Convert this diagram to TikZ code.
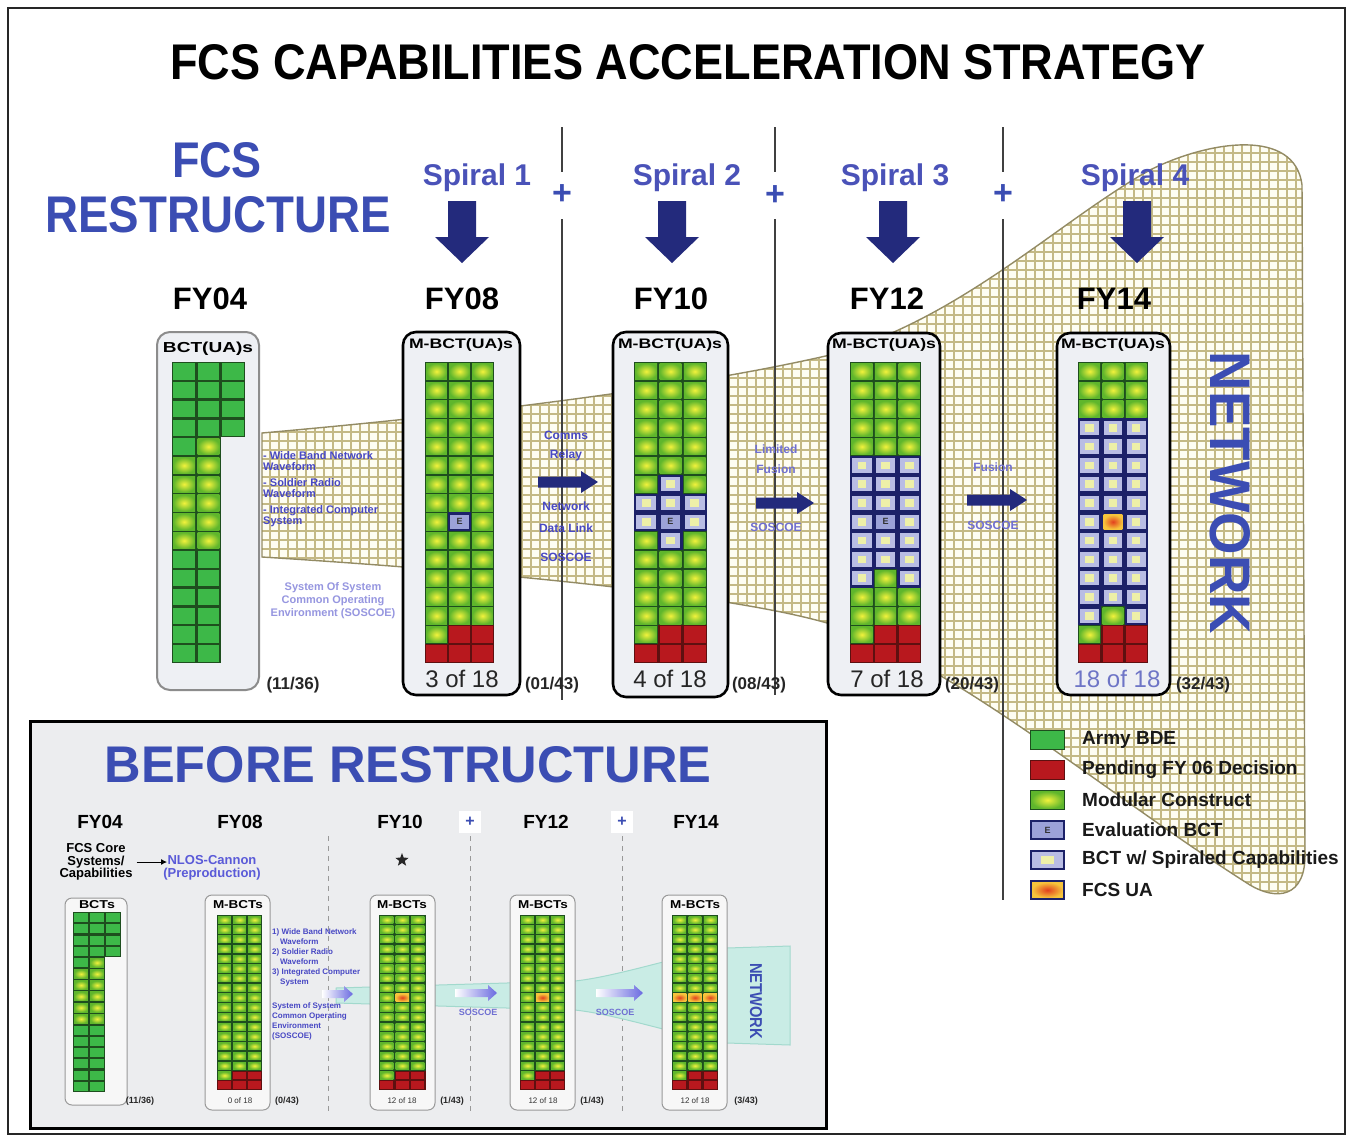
\documentclass[tikz,border=0pt]{standalone}
\usepackage{fontspec}
\setmainfont{Liberation Sans}
\usetikzlibrary{shapes.geometric,arrows.meta}
\definecolor{rblue}{HTML}{3B4DB3}
\definecolor{spblue}{HTML}{4A52B8}
\definecolor{navy}{HTML}{232A7C}
\definecolor{tblue}{HTML}{4848C4}
\definecolor{tblue2}{HTML}{7070D2}
\definecolor{lpurp}{HTML}{9696E0}
\definecolor{gridc}{HTML}{C4B985}
\definecolor{gridbg}{HTML}{FEFDF2}
\definecolor{gline}{HTML}{1E4E1E}
\definecolor{gfill}{HTML}{3DB848}
\definecolor{mfill}{HTML}{5FB62C}
\definecolor{ylw}{HTML}{F2F23C}
\definecolor{rline}{HTML}{5E1010}
\definecolor{rfill}{HTML}{B8181E}
\definecolor{bline}{HTML}{1C2168}
\definecolor{lav}{HTML}{B9BDE4}
\definecolor{lav2}{HTML}{9CA2D8}
\definecolor{bylw}{HTML}{EEF0A8}
\definecolor{boxfill}{HTML}{EEF0F4}
\definecolor{insetbg}{HTML}{ECEDEF}
\definecolor{tealf}{HTML}{C9ECE5}
\definecolor{teale}{HTML}{A2D9CD}
\definecolor{ofill}{HTML}{F6C43C}
\definecolor{ored}{HTML}{E2401E}
\definecolor{nlos}{HTML}{5A5AD8}
\definecolor{arrb}{HTML}{6A6AE0}
\newcount\ecnt
\newcommand\cellG[4]{\fill[gline] (#1,#2) rectangle ++(#3,#4); \fill[gfill] (#1+1.2,#2+1.2) rectangle (#1+#3-1.2,#2+#4-1.2);}
\newcommand\cellM[4]{\fill[gline] (#1,#2) rectangle ++(#3,#4); \shade[inner color=ylw, outer color=mfill] (#1+1.2,#2+1.2) rectangle (#1+#3-1.2,#2+#4-1.2);}
\newcommand\cellR[4]{\fill[rline] (#1,#2) rectangle ++(#3,#4); \fill[rfill] (#1+1.2,#2+1.2) rectangle (#1+#3-1.2,#2+#4-1.2);}
\newcommand\cellB[4]{\fill[bline] (#1,#2) rectangle ++(#3,#4); \fill[lav] (#1+2.2,#2+2.2) rectangle (#1+#3-2.2,#2+#4-2.2); \fill[bylw] (#1+0.32*#3,#2+0.3*#4) rectangle (#1+0.68*#3,#2+0.7*#4);}
\newcommand\cellE[4]{\fill[bline] (#1,#2) rectangle ++(#3,#4); \fill[lav2] (#1+2.2,#2+2.2) rectangle (#1+#3-2.2,#2+#4-2.2); \global\advance\ecnt by 1 \node[inner sep=0, font=\fontsize{9}{9}\selectfont\bfseries, text=black!80] (ecell\the\ecnt) at (#1+#3/2,#2+#4/2) {E};}
\newcommand\cellU[4]{\fill[bline] (#1,#2) rectangle ++(#3,#4); \shade[inner color=ored, outer color=ofill] (#1+2.2,#2+2.2) rectangle (#1+#3-2.2,#2+#4-2.2);}
\newcommand\cellu[4]{\fill[gline] (#1,#2) rectangle ++(#3,#4); \shade[inner color=ored, outer color=ofill] (#1+1,#2+1) rectangle (#1+#3-1,#2+#4-1);}
\newcommand\cellN[4]{}
\newcommand\drawgrid[5]{%
 \foreach \rl [count=\rr from 0] in {#5} {%
   \foreach \ct [count=\cc from 0] in \rl {%
     \pgfmathsetmacro\cx{#1+\cc*#3}%
     \pgfmathsetmacro\cy{#2+\rr*#4}%
     \csname cell\ct\endcsname{\cx}{\cy}{#3}{#4}%
   }%
 }%
}
\newcommand\harrow[3]{\fill[navy] (#1,#3-5.5) -- (#2-17,#3-5.5) -- (#2-17,#3-11) -- (#2,#3) -- (#2-17,#3+11) -- (#2-17,#3+5.5) -- (#1,#3+5.5) -- cycle;}
\newcommand\sarrow[3]{\shade[left color=white, right color=arrb] (#1,#3-4) -- (#2-9,#3-4) -- (#2-9,#3-8) -- (#2,#3) -- (#2-9,#3+8) -- (#2-9,#3+4) -- (#1,#3+4) -- cycle;}
\def\funnelpath{(262,433) .. controls (500,412) and (700,385) .. (830,355) .. controls (960,320) and (1060,220) .. (1150,170) .. controls (1210,140) and (1295,128) .. (1302,185) -- (1305,850) .. controls (1307,900) and (1275,900) .. (1250,885) .. controls (1100,790) and (950,660) .. (827,623) .. controls (730,595) and (500,572) .. (262,557) -- cycle}
\tikzset{
 vline/.style={draw=black!75, line width=1.6pt},
 plusn/.style={text=rblue, font=\fontsize{34}{34}\selectfont\bfseries, inner sep=0},
 spiral/.style={text=spblue, font=\fontsize{30}{30}\selectfont\bfseries, inner sep=0},
 fy/.style={text=black, font=\fontsize{31}{31}\selectfont\bfseries, inner sep=0},
 bigbox/.style={draw=black, line width=2.6pt, fill=boxfill, rounded corners=13pt},
 graybox/.style={draw=black!45, line width=2pt, fill=boxfill, rounded corners=13pt},
 ofn/.style={font=\fontsize{24}{24}\selectfont, text=black!85, inner sep=0},
 cnt/.style={font=\fontsize{17}{17}\selectfont\bfseries, text=black!85, inner sep=0},
 ftxt/.style={font=\fontsize{12}{12}\selectfont\bfseries, text=tblue, inner sep=0},
 ftxt2/.style={font=\fontsize{12}{12}\selectfont\bfseries, text=tblue2, inner sep=0},
 legt/.style={font=\fontsize{19}{19}\selectfont\bfseries, text=black!90, anchor=west, inner sep=0},
 smallbox/.style={draw=black!40, line width=1pt, fill=black!3, rounded corners=7pt},
 ify/.style={text=black, font=\fontsize{19}{19}\selectfont\bfseries, inner sep=0},
 iplus/.style={text=rblue, font=\fontsize{16}{16}\selectfont\bfseries, inner sep=0},
 iof/.style={font=\fontsize{8}{8}\selectfont, text=black!80, inner sep=0},
 icnt/.style={font=\fontsize{9}{9}\selectfont\bfseries, text=black!85, inner sep=0},
 itxt/.style={font=\fontsize{8}{10}\selectfont\bfseries, text=tblue, inner sep=0, align=left, anchor=north west},
}
\begin{document}
\begin{tikzpicture}[x=1pt,y=-1pt]
\useasboundingbox (0,0) rectangle (1351,1140);
\fill[white] (0,0) rectangle (1351,1140);
\draw[line width=1.5pt, black!85] (8,8) rectangle (1345,1134);

% network funnel
\begin{scope}
\clip \funnelpath;
\fill[gridbg] (250,100) rectangle (1320,920);
\draw[gridc, line width=1.05pt, step=9pt] (250,100) grid (1320,920);
\end{scope}
\draw[gridc!75!black, line width=1.4pt] \funnelpath;

% spiral separators
\foreach \vx/\vb in {562/700, 775/695, 1003/900} {
  \draw[vline] (\vx,127) -- (\vx,172);
  \draw[vline] (\vx,219) -- (\vx,\vb);
}
\node[plusn] (plusA) at (562,195) {+};
\node[plusn] (plusB) at (775,196) {+};
\node[plusn] (plusC) at (1003,195) {+};

% titles
\node[inner sep=0] (title) at (688,62) {\resizebox{1035pt}{35pt}{\bfseries FCS CAPABILITIES ACCELERATION STRATEGY}};
\node[inner sep=0, text=rblue] (fcs) at (217,160) {\resizebox{90pt}{35pt}{\bfseries FCS}};
\node[inner sep=0, text=rblue] (restr) at (218,215) {\resizebox{345pt}{36pt}{\bfseries RESTRUCTURE}};

\node[spiral] (sp1) at (477,178) {Spiral 1};
\node[spiral] (sp2) at (687,178) {Spiral 2};
\node[spiral] (sp3) at (895,178) {Spiral 3};
\node[spiral] (sp4) at (1135,178) {Spiral 4};
\foreach \ax in {462,672,893,1137} {
  \fill[navy] (\ax-14,201) -- (\ax+14,201) -- (\ax+14,237) -- (\ax+27,237) -- (\ax,263) -- (\ax-27,237) -- (\ax-14,237) -- cycle;
}
\node[fy] (fy04) at (210,299) {FY04};
\node[fy] (fy08) at (462,299) {FY08};
\node[fy] (fy10) at (671,299) {FY10};
\node[fy] (fy12) at (887,299) {FY12};
\node[fy] (fy14) at (1114,299) {FY14};

% column boxes
\path[graybox] (157,332) rectangle (259,690);
\path[bigbox] (403,332) rectangle (520,695);
\path[bigbox] (613,332) rectangle (728,697);
\path[bigbox] (828,333) rectangle (940,695);
\path[bigbox] (1057,333) rectangle (1170,695);

\node[inner sep=0] (lab04) at (208,349) {\resizebox{90pt}{10.5pt}{\bfseries BCT(UA)s}};
\node[inner sep=0] (lab08) at (461,345) {\resizebox{104pt}{10pt}{\bfseries M-BCT(UA)s}};
\node[inner sep=0] (lab10) at (670,345) {\resizebox{104pt}{10pt}{\bfseries M-BCT(UA)s}};
\node[inner sep=0] (lab12) at (884,345) {\resizebox{104pt}{10pt}{\bfseries M-BCT(UA)s}};
\node[inner sep=0] (lab14) at (1113,345) {\resizebox{104pt}{10pt}{\bfseries M-BCT(UA)s}};

% grids
\drawgrid{172}{362}{24.3}{18.8}{{G,G,G},{G,G,G},{G,G,G},{G,G,G},{G,M,N},{M,M,N},{M,M,N},{M,M,N},{M,M,N},{M,M,N},{G,G,N},{G,G,N},{G,G,N},{G,G,N},{G,G,N},{G,G,N}}
\drawgrid{425}{362}{23}{18.8}{{M,M,M},{M,M,M},{M,M,M},{M,M,M},{M,M,M},{M,M,M},{M,M,M},{M,M,M},{M,E,M},{M,M,M},{M,M,M},{M,M,M},{M,M,M},{M,M,M},{M,R,R},{R,R,R}}
\drawgrid{634}{362}{24.3}{18.8}{{M,M,M},{M,M,M},{M,M,M},{M,M,M},{M,M,M},{M,M,M},{M,B,M},{B,B,B},{B,E,B},{M,B,M},{M,M,M},{M,M,M},{M,M,M},{M,M,M},{M,R,R},{R,R,R}}
\drawgrid{850}{362}{23.7}{18.8}{{M,M,M},{M,M,M},{M,M,M},{M,M,M},{M,M,M},{B,B,B},{B,B,B},{B,B,B},{B,E,B},{B,B,B},{B,B,B},{B,M,B},{M,M,M},{M,M,M},{M,R,R},{R,R,R}}
\drawgrid{1078}{362}{23.3}{18.8}{{M,M,M},{M,M,M},{M,M,M},{B,B,B},{B,B,B},{B,B,B},{B,B,B},{B,B,B},{B,U,B},{B,B,B},{B,B,B},{B,B,B},{B,B,B},{B,M,B},{M,R,R},{R,R,R}}

\node[ofn] (of08) at (462,679) {3 of 18};
\node[ofn] (of10) at (670,679) {4 of 18};
\node[ofn] (of12) at (887,679) {7 of 18};
\node[ofn, text=spblue!80] (of14) at (1117,679) {18 of 18};
\node[cnt] (c04) at (293,685) {(11/36)};
\node[cnt] (c08) at (552,685) {(01/43)};
\node[cnt] (c10) at (759,685) {(08/43)};
\node[cnt] (c12) at (972,685) {(20/43)};
\node[cnt] (c14) at (1203,685) {(32/43)};

% funnel texts
\node[font=\fontsize{11}{11}\selectfont\bfseries, text=tblue, inner sep=0, align=left, anchor=north west] (wbn) at (263,451) {- Wide Band Network\\Waveform\\[5pt]- Soldier Radio\\Waveform\\[5pt]- Integrated Computer\\System};
\node[font=\fontsize{11}{13}\selectfont\bfseries, text=lpurp, inner sep=0, align=center] (sos) at (333,601) {System Of System\\Common Operating\\Environment (SOSCOE)};
\node[ftxt] (t1a) at (566,435) {Comms};
\node[ftxt] (t1b) at (566,455) {Relay};
\node[ftxt] (t1c) at (566,506) {Network};
\node[ftxt] (t1d) at (566,528) {Data Link};
\node[ftxt] (t1e) at (566,557) {SOSCOE};
\harrow{538}{598}{482}
\node[ftxt2] (t2a) at (776,449) {Limited};
\node[ftxt2] (t2b) at (776,469) {Fusion};
\node[ftxt2] (t2c) at (776,527) {SOSCOE};
\harrow{756}{814}{503}
\node[ftxt2] (t3a) at (993,467) {Fusion};
\node[ftxt2] (t3b) at (993,525) {SOSCOE};
\harrow{967}{1027}{500}

\node[rotate=-90, inner sep=0, text=rblue] (netw) at (1230,493) {\resizebox{282pt}{40pt}{\bfseries NETWORK}};

% legend
\cellG{1030}{730}{35}{20}
\cellR{1030}{760}{35}{20}
\cellM{1030}{790}{35}{20}
\cellE{1030}{820}{35}{20}
\cellB{1030}{850}{35}{20}
\cellU{1030}{880}{35}{20}
\node[legt] (l1) at (1082,740) {Army BDE};
\node[legt] (l2) at (1082,770) {Pending FY 06 Decision};
\node[legt] (l3) at (1082,800) {Modular Construct};
\node[legt] (l4) at (1082,830) {Evaluation BCT};
\node[legt] (l5) at (1082,860) {BCT w/ Spiraled Capabilities};
\node[legt] (l6) at (1082,890) {FCS UA};

% ===== inset: before restructure =====
\fill[insetbg] (30,721) rectangle (826,1128);
\draw[line width=3pt] (30,721) rectangle (826,1128);
\node[inner sep=0, text=rblue] (before) at (408,765) {\resizebox{607pt}{36pt}{\bfseries BEFORE RESTRUCTURE}};

\foreach \dx in {328,470,622} {
  \draw[black!40, line width=1pt, dash pattern=on 5pt off 5pt] (\dx,836) -- (\dx,1115);
}
\fill[white] (459,811) rectangle (481,833);
\fill[white] (611,811) rectangle (633,833);
\node[iplus] (ipA) at (470,822) {+};
\node[iplus] (ipB) at (622,822) {+};

\node[ify] (ify04) at (100,822) {FY04};
\node[ify] (ify08) at (240,822) {FY08};
\node[ify] (ify10) at (400,822) {FY10};
\node[ify] (ify12) at (546,822) {FY12};
\node[ify] (ify14) at (696,822) {FY14};

\node[font=\fontsize{13}{12.5}\selectfont\bfseries, inner sep=0, align=center] (core) at (96,862) {FCS Core\\Systems/\\Capabilities};
\node[font=\fontsize{13}{12.5}\selectfont\bfseries, text=nlos, inner sep=0, align=center] (nlos) at (212,868) {NLOS-Cannon\\(Preproduction)};
\draw[-{Latex[length=6pt,width=6pt]}, line width=1pt] ([xshift=4pt]core.east) -- ([xshift=4pt]core.east -| nlos.west);
\node[star, star points=5, star point ratio=2.4, fill=black!85, minimum size=14pt, inner sep=0] (star) at (402,860) {};

% teal network
\fill[tealf] (336,988) -- (575,981) .. controls (620,976) and (680,955) .. (727,948) -- (790,946) -- (790,1045) -- (727,1043) .. controls (680,1036) and (620,1015) .. (575,1010) -- (336,1003) -- cycle;
\draw[teale, line width=1pt] (336,988) -- (575,981) .. controls (620,976) and (680,955) .. (727,948) -- (790,946) -- (790,1045) -- (727,1043) .. controls (680,1036) and (620,1015) .. (575,1010) -- (336,1003) -- cycle;
\sarrow{322}{353}{994}
\sarrow{455}{497}{993}
\sarrow{596}{643}{993}
\node[font=\fontsize{9}{9}\selectfont\bfseries, text=tblue2, inner sep=0] (isos1) at (478,1012) {SOSCOE};
\node[font=\fontsize{9}{9}\selectfont\bfseries, text=tblue2, inner sep=0] (isos2) at (615,1012) {SOSCOE};
\node[rotate=-90, inner sep=0, text=rblue] (inetw) at (756,1001) {\resizebox{76pt}{12pt}{\bfseries NETWORK}};

\node[itxt] (iwbn) at (272,928) {1) Wide Band Network\\\hspace*{8pt}Waveform\\2) Soldier Radio\\\hspace*{8pt}Waveform\\3) Integrated Computer\\\hspace*{8pt}System};
\node[itxt] (isos) at (272,1002) {System of System\\Common Operating\\Environment\\(SOSCOE)};

% small columns
\path[smallbox] (65,898) rectangle (127,1105);
\path[smallbox] (205,895) rectangle (270,1110);
\path[smallbox] (370,895) rectangle (435,1110);
\path[smallbox] (510,895) rectangle (575,1110);
\path[smallbox] (662,895) rectangle (727,1110);
\node[inner sep=0] (slab04) at (97,905) {\resizebox{36pt}{8pt}{\bfseries BCTs}};
\node[inner sep=0] (slab08) at (238,905) {\resizebox{50pt}{8pt}{\bfseries M-BCTs}};
\node[inner sep=0] (slab10) at (402,905) {\resizebox{50pt}{8pt}{\bfseries M-BCTs}};
\node[inner sep=0] (slab12) at (543,905) {\resizebox{50pt}{8pt}{\bfseries M-BCTs}};
\node[inner sep=0] (slab14) at (695,905) {\resizebox{50pt}{8pt}{\bfseries M-BCTs}};

\drawgrid{73}{912}{16}{11.25}{{G,G,G},{G,G,G},{G,G,G},{G,G,G},{G,M,N},{M,M,N},{M,M,N},{M,M,N},{M,M,N},{M,M,N},{G,G,N},{G,G,N},{G,G,N},{G,G,N},{G,G,N},{G,G,N}}
\drawgrid{217}{915}{15}{9.72}{{M,M,M},{M,M,M},{M,M,M},{M,M,M},{M,M,M},{M,M,M},{M,M,M},{M,M,M},{M,M,M},{M,M,M},{M,M,M},{M,M,M},{M,M,M},{M,M,M},{M,M,M},{M,M,M},{M,R,R},{R,R,R}}
\drawgrid{379}{915}{15.5}{9.72}{{M,M,M},{M,M,M},{M,M,M},{M,M,M},{M,M,M},{M,M,M},{M,M,M},{M,M,M},{M,u,M},{M,M,M},{M,M,M},{M,M,M},{M,M,M},{M,M,M},{M,M,M},{M,M,M},{M,R,R},{R,R,R}}
\drawgrid{520}{915}{15}{9.72}{{M,M,M},{M,M,M},{M,M,M},{M,M,M},{M,M,M},{M,M,M},{M,M,M},{M,M,M},{M,u,M},{M,M,M},{M,M,M},{M,M,M},{M,M,M},{M,M,M},{M,M,M},{M,M,M},{M,R,R},{R,R,R}}
\drawgrid{672}{915}{15.3}{9.72}{{M,M,M},{M,M,M},{M,M,M},{M,M,M},{M,M,M},{M,M,M},{M,M,M},{M,M,M},{u,u,u},{M,M,M},{M,M,M},{M,M,M},{M,M,M},{M,M,M},{M,M,M},{M,M,M},{M,R,R},{R,R,R}}

\node[iof] (iof08) at (240,1101) {0 of 18};
\node[iof] (iof10) at (402,1101) {12 of 18};
\node[iof] (iof12) at (543,1101) {12 of 18};
\node[iof] (iof14) at (695,1101) {12 of 18};
\node[icnt] (ic04) at (140,1101) {(11/36)};
\node[icnt] (ic08) at (287,1101) {(0/43)};
\node[icnt] (ic10) at (452,1101) {(1/43)};
\node[icnt] (ic12) at (592,1101) {(1/43)};
\node[icnt] (ic14) at (746,1101) {(3/43)};
\end{tikzpicture}
\end{document}
